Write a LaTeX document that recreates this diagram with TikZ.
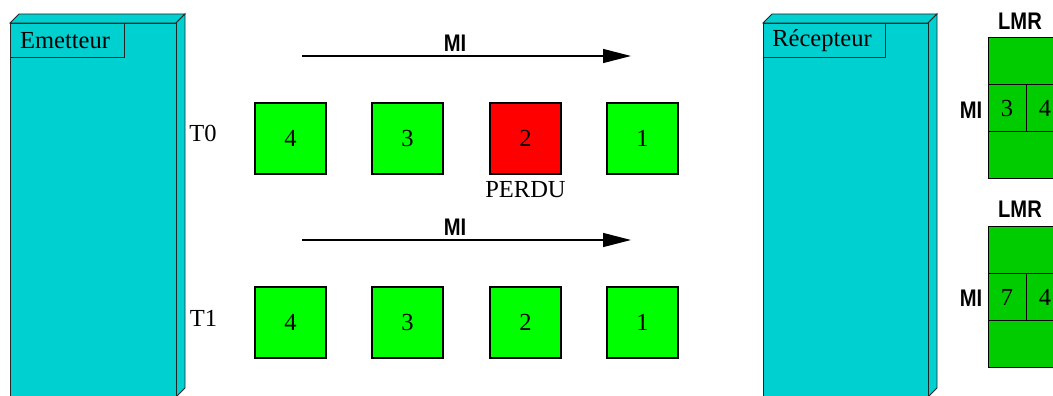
\documentclass[tikz,border=0pt]{standalone}
\usepackage{fontspec}
\setmainfont{Liberation Serif}
\newfontfamily\nbfont[FakeStretch=0.84]{Liberation Sans}
\usetikzlibrary{arrows.meta}
\definecolor{boxcyan}{RGB}{0,208,208}
\definecolor{pktgreen}{RGB}{0,255,0}
\definecolor{pktred}{RGB}{255,0,0}
\definecolor{tabgreen}{RGB}{0,204,0}
\tikzset{
  face/.style={fill=boxcyan, draw=black!85, line width=0.9pt, line join=miter},
  pkt/.style={draw=black, line width=1.1pt, fill=pktgreen, minimum width=71pt, minimum height=71pt, inner sep=0pt, font=\fontsize{24.5}{28}\selectfont},
  lost/.style={pkt, fill=pktred},
  serif/.style={inner sep=0pt, font=\fontsize{24.5}{28}\selectfont},
  sansb/.style={inner sep=0pt, font=\nbfont\bfseries\fontsize{24}{27}\selectfont},
  flow/.style={line width=1.4pt, -{Triangle[length=28pt,width=14pt]}},
  tab/.style={fill=tabgreen, draw=black, line width=1pt},
}
\begin{document}
\begin{tikzpicture}[x=1pt,y=-1pt]
\useasboundingbox (0,0) rectangle (1053,396);
\clip (0,0) rectangle (1053,396);
% Emetteur
\draw[face] (10,23) -- (19,14) -- (185,14) -- (176,23) -- cycle;
\draw[face] (176,23) -- (185,14) -- (185,388) -- (176,397) -- cycle;
\draw[face] (10,23) rectangle (176,397);
\draw[face] (10,23) rectangle (124,57);
\node[serif] (em) at (65,41) {Emetteur};
% Recepteur
\draw[face] (763,23) -- (772,14) -- (937,14) -- (928,23) -- cycle;
\draw[face] (928,23) -- (937,14) -- (937,388) -- (928,397) -- cycle;
\draw[face] (763,23) rectangle (928,397);
\draw[face] (763,23) rectangle (885,57);
\node[serif] (rc) at (822,41) {Récepteur};
% row T0
\node[serif] (t0) at (203,133) {T0};
\node[pkt] (p04) at (290.5,138.5) {4};
\node[pkt] (p03) at (407.5,138.5) {3};
\node[lost] (p02) at (525.5,138.5) {2};
\node[pkt] (p01) at (642.5,138.5) {1};
\node[serif] (perdu) at (525.5,190) {PERDU};
\coordinate (a0s) at (302,56);
\coordinate (a0e) at (631,56);
\draw[flow] (a0s) -- (a0e);
\node[sansb] (mi0) at (455,43) {MI};
% row T1
\node[serif] (t1) at (203.5,318) {T1};
\node[pkt] (p14) at (290.5,322.5) {4};
\node[pkt] (p13) at (407.5,322.5) {3};
\node[pkt] (p12) at (525.5,322.5) {2};
\node[pkt] (p11) at (642.5,322.5) {1};
\coordinate (a1s) at (302,240);
\coordinate (a1e) at (631,240);
\draw[flow] (a1s) -- (a1e);
\node[sansb] (mi1) at (455,227) {MI};
% LMR table 1
\node[sansb] (lmr0) at (1020,21) {LMR};
\draw[tab] (988,37.5) rectangle (1110,178);
\draw[line width=1pt] (988,84.5) -- (1110,84.5) (988,131.5) -- (1110,131.5) (1026,84.5) -- (1026,131.5) (1064,84.5) -- (1064,131.5);
\node[serif] (c03) at (1007,108.5) {3};
\node[serif] (c04) at (1045,108.5) {4};
\node[sansb] (mil0) at (971,110) {MI};
% LMR table 2
\node[sansb] (lmr1) at (1020,209) {LMR};
\draw[tab] (988,226) rectangle (1110,367);
\draw[line width=1pt] (988,273) -- (1110,273) (988,320) -- (1110,320) (1026,273) -- (1026,320) (1064,273) -- (1064,320);
\node[serif] (c17) at (1007,297) {7};
\node[serif] (c14) at (1045,297) {4};
\node[sansb] (mil1) at (971,298) {MI};
\end{tikzpicture}
\end{document}
